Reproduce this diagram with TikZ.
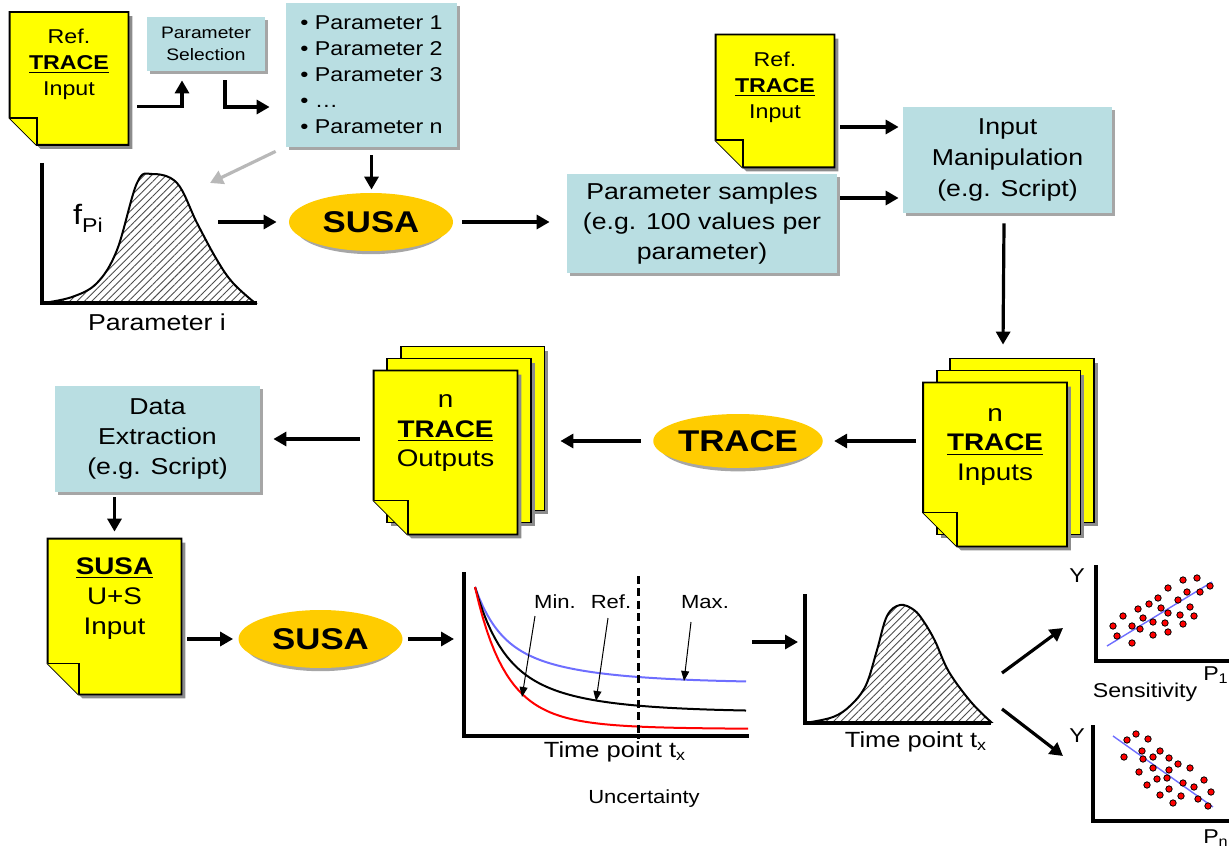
\documentclass[tikz,border=0pt]{standalone}
\usepackage{fontspec}
\setmainfont{Liberation Sans}[FakeStretch=1.16]
\usetikzlibrary{arrows.meta,shapes.geometric,shadows,patterns.meta,backgrounds}

\definecolor{docyellow}{RGB}{255,255,0}
\definecolor{boxblue}{RGB}{185,222,226}
\definecolor{susagold}{RGB}{255,204,0}
\definecolor{maxblue}{RGB}{110,110,255}

\tikzset{
  arr/.style={line width=1.6pt, -{Triangle[length=6.5pt,width=7pt]}},
  thinarr/.style={line width=0.5pt, -{Triangle[length=5pt,width=4pt]}},
  axis/.style={line width=1.6pt},
  pbox/.style={rectangle, fill=boxblue, align=center, inner sep=0pt,
    drop shadow={shadow xshift=1.3pt, shadow yshift=-1.3pt, fill=black!35, opacity=1}},
  prog/.style={ellipse, fill=susagold, inner sep=0pt, minimum width=82pt, minimum height=29pt,
    font=\bfseries\fontsize{15}{15}\selectfont,
    drop shadow={shadow xshift=0pt, shadow yshift=-3pt, shadow scale=0.92, fill=black!35, opacity=1}},
  docpage/.style={rectangle, inner sep=0pt, minimum width=59pt, minimum height=66pt},
  docstack/.style={rectangle, inner sep=0pt, minimum width=71.5pt, minimum height=81.5pt},
  doctext/.style={align=center, inner sep=0pt},
  pageline/.style={draw=black, fill=docyellow, line width=0.9pt},
  hatch/.style={pattern={Lines[angle=45,distance=2.6pt,line width=0.45pt]}, pattern color=black!70},
  plotlbl/.style={inner sep=0pt, font=\fontsize{11}{11}\selectfont},
  sdot/.style={fill=red, draw=black, line width=0.4pt},
}

% front page with folded corner, drawn round an empty node
\newcommand{\pagefold}[2]{%
  \fill[black!45] ([shift={(4,4)}]#1.north west) -- ([shift={(4,4)}]#1.north east)
    -- ([shift={(4,4)}]#1.south east) -- ([shift={(4+#2,4)}]#1.south west)
    -- ([shift={(4,4-#2)}]#1.south west) -- cycle;
  \draw[pageline] (#1.north west) -- (#1.north east) -- (#1.south east)
    -- ([shift={(#2,0)}]#1.south west) -- ([shift={(0,-#2)}]#1.south west) -- cycle;
  \draw[pageline] ([shift={(0,-#2)}]#1.south west) -- ([shift={(#2,-#2)}]#1.south west)
    -- ([shift={(#2,0)}]#1.south west);
}
% pages behind the front one
\newcommand{\pageback}[2]{%
  \fill[black!45] ([shift={(13.5*#2+4,-12*#2+4)}]#1.north west) rectangle ([shift={(13.5*#2+4,-12*#2+4)}]#1.south east);
  \draw[pageline] ([shift={(13.5*#2,-12*#2)}]#1.north west) rectangle ([shift={(13.5*#2,-12*#2)}]#1.south east);
}

\begin{document}
\begin{tikzpicture}[x=0.5pt, y=-0.5pt]
\useasboundingbox (0,0) rectangle (1229,849);

% top row
\node[docpage] (refin) at (69,78.5) {};
\node[doctext, font=\fontsize{10}{13}\selectfont] (refintxt) at ([yshift=7pt]refin.center) {Ref.\\\underline{\textbf{TRACE}}\\Input};
\node[pbox, minimum width=59pt, minimum height=27pt, font=\fontsize{8.3}{11}\selectfont] (parsel) at (206,44) {Parameter\\Selection};
\node[pbox, minimum width=85.5pt, minimum height=72pt, align=left, font=\fontsize{10}{13}\selectfont] (parlist) at (371.5,75) {• Parameter 1\\• Parameter 2\\• Parameter 3\\• …\\• Parameter n};
\node[prog] (susa1) at (371,222) {SUSA};
\node[pbox, minimum width=135pt, minimum height=49.5pt, font=\fontsize{11.5}{15}\selectfont] (parsamp) at (702,223.5) {Parameter samples\\(e.g. 100 values per\\parameter)};
\node[docpage] (refin2) at (775,101) {};
\node[doctext, font=\fontsize{10}{13}\selectfont] (refin2txt) at ([yshift=6.75pt]refin2.center) {Ref.\\\underline{\textbf{TRACE}}\\Input};
\node[pbox, minimum width=104.5pt, minimum height=53pt, font=\fontsize{11.5}{15.5}\selectfont] (inman) at (1007.5,160) {Input\\Manipulation\\(e.g. Script)};

% distribution of one parameter
\coordinate (pdforig) at (42,303);
\coordinate (pdftop) at (210,183);
\coordinate (pdfright) at (218,222);
\draw[hatch, line width=1pt] plot[smooth, tension=0.6] coordinates {(43,303) (72,297) (97,283) (117,250) (137,183) (152,174) (177,183) (197,223) (217,260) (233,283) (255,303)} -- cycle;
\draw[axis] (42,163) -- (pdforig) -- (257,303);
\node[inner sep=0pt, font=\fontsize{14}{14}\selectfont] (fpi) at (88,218) {f\raisebox{-0.55ex}{\fontsize{10}{10}\selectfont Pi}};
\node[plotlbl, font=\fontsize{11.5}{11.5}\selectfont] (parilbl) at (157,322) {Parameter i};

% second row
\node[docstack] (trin) at (995,464.5) {};
\node[doctext, font=\fontsize{12}{14.75}\selectfont] (trintxt) at ([yshift=8.75pt]trin.center) {n\\\underline{\textbf{TRACE}}\\Inputs};
\node[prog, minimum height=27pt] (trace) at (738,441) {TRACE};
\node[docstack] (trout) at (445.5,452.5) {};
\node[doctext, font=\fontsize{12}{14.75}\selectfont] (trouttxt) at ([yshift=9.5pt]trout.center) {n\\\underline{\textbf{TRACE}}\\Outputs};
\node[pbox, minimum width=102.5pt, minimum height=53pt, font=\fontsize{11.5}{15}\selectfont] (dataex) at (157.5,439) {Data\\Extraction\\(e.g. Script)};

% third row
\node[docpage, minimum width=66.5pt, minimum height=77.5pt] (susain) at (114.5,616.5) {};
\node[doctext, font=\fontsize{12}{15}\selectfont] (susaintxt) at ([yshift=9pt]susain.center) {\underline{\textbf{SUSA}}\\U+S\\Input};
\node[prog] (susa2) at (320.5,639) {SUSA};

% uncertainty plot
\coordinate (uncorig) at (464,736);
\coordinate (uncright) at (752,642);
\draw[axis] (464,572) -- (uncorig) -- (749,736);
\draw[maxblue, line width=1pt] plot[domain=475:746, samples=70] (\x, {683-50*exp(-(\x-475)/22)-46*exp(-(\x-475)/80)});
\draw[line width=1pt] plot[domain=475:746, samples=70] (\x, {712-70*exp(-(\x-475)/25)-55*exp(-(\x-475)/75)});
\draw[red, line width=1pt] plot[domain=475:748, samples=70] (\x, {729-110*exp(-(\x-475)/28)-32*exp(-(\x-475)/60)});
\draw[line width=1.5pt, dash pattern=on 4pt off 2.2pt] (638,576) -- (638,739);
\node[plotlbl, font=\fontsize{9.5}{9.5}\selectfont] (minlbl) at (555,602) {Min.};
\node[plotlbl, font=\fontsize{9.5}{9.5}\selectfont] (reflbl) at (611,602) {Ref.};
\node[plotlbl, font=\fontsize{9.5}{9.5}\selectfont] (maxlbl) at (705,602) {Max.};
\coordinate (minpt) at (522,697);
\coordinate (refpt) at (596,701);
\coordinate (maxpt) at (684,681);
\draw[thinarr] ([shift={(-20,14)}]minlbl.center) -- (minpt);
\draw[thinarr] ([shift={(-3,16)}]reflbl.center) -- (refpt);
\draw[thinarr] ([shift={(-14,20)}]maxlbl.center) -- (maxpt);
\node[plotlbl] (tpt1) at (615,752) {Time point t\textsubscript{x}};
\node[plotlbl, font=\fontsize{9.5}{9.5}\selectfont] (unclbl) at (644,799) {Uncertainty};

% distribution at time point
\coordinate (tdorig) at (805,723);
\draw[hatch, line width=1pt] plot[smooth, tension=0.6] coordinates {(805,723) (833,717) (851,705) (866,685) (877,650) (887,616) (900,605) (914,610) (924,622) (935,641) (949,672) (971,702) (991,722)} -- cycle;
\draw[axis] (805,594) -- (tdorig) -- (991,723);
\node[plotlbl] (tpt2) at (916,742) {Time point t\textsubscript{x}};

% sensitivity plots
\coordinate (s1orig) at (1096,661);
\coordinate (s2orig) at (1093,821);
\coordinate (sensup) at (1002,673);
\coordinate (sensdn) at (1002,709);
\draw[line width=1.9pt] (1096,565) -- (s1orig) -- (1229,661);
\draw[line width=1.9pt] (1093,725) -- (s2orig) -- (1229,821);
\draw[maxblue, line width=0.7pt] (1107,646) -- (1212,582);
\draw[maxblue, line width=0.7pt] (1113,736) -- (1213,807);
\foreach \p in {(1183,580),(1197,578),(1210,586),(1168,588),(1187,592),(1200,592),(1158,598),(1149,604),(1161,608),(1178,600),(1190,607),(1138,609),(1123,616),(1168,613),(1180,615),(1194,616),(1143,618),(1153,622),(1165,623),(1113,626),(1132,626),(1140,629),(1183,624),(1117,636),(1153,635),(1168,632),(1132,643)}
  \filldraw[sdot] \p circle[radius=1.6pt];
\foreach \p in {(1127,740),(1136,734),(1148,739),(1124,757),(1142,751),(1160,751),(1143,759),(1153,757),(1169,758),(1178,764),(1153,768),(1169,770),(1190,768),(1139,772),(1167,778),(1157,779),(1147,785),(1183,783),(1194,787),(1204,780),(1169,789),(1211,792),(1160,795),(1181,796),(1198,799),(1173,803),(1208,806)}
  \filldraw[sdot] \p circle[radius=1.6pt];
\node[plotlbl, font=\fontsize{10}{10}\selectfont] (y1lbl) at (1077,576) {Y};
\node[plotlbl, font=\fontsize{10}{10}\selectfont] (p1lbl) at (1216,675) {P\textsubscript{1}};
\node[plotlbl, font=\fontsize{10}{10}\selectfont] (senslbl) at (1145,692) {Sensitivity};
\node[plotlbl, font=\fontsize{10}{10}\selectfont] (y2lbl) at (1077,736) {Y};
\node[plotlbl, font=\fontsize{10}{10}\selectfont] (pnlbl) at (1216,838) {P\textsubscript{n}};

% connectors
\draw[arr] ([shift={(9,28)}]refin.east) -| ([shift={(-24,9)}]parsel.south);
\draw[arr] ([shift={(19,9)}]parsel.south) |- ([shift={(-16,32)}]parlist.west);
\draw[arr, black!28] ([shift={(-10,4)}]parlist.south west) -- (pdftop);
\draw[arr] ([yshift=-4pt]parlist.south) -- ([yshift=1.5pt]parlist.south |- susa1.north);
\draw[arr] (pdfright) -- ([xshift=-6pt]susa1.west);
\draw[arr] ([xshift=4.5pt]susa1.east) -- ([xshift=-8.5pt]parsamp.west |- susa1.east);
\draw[arr] ([shift={(6,26)}]refin2.east) -- ([shift={(-4,-33)}]inman.west);
\draw[arr] ([shift={(3,-25.5)}]parsamp.east) -- ([shift={(-4,38)}]inman.west);
\draw[arr] ([shift={(-3.5,10)}]inman.south) -- ([shift={(8,-38)}]trin.north);
\draw[arr] ([xshift=-3.5pt]trin.west |- trace.east) -- ([xshift=5.5pt]trace.east);
\draw[arr] ([xshift=-6pt]trace.west) -- ([xshift=21.5pt]trout.east |- trace.west);
\draw[arr] ([xshift=-7pt]trout.west |- dataex.east) -- ([xshift=6.5pt]dataex.east);
\draw[arr] ([yshift=-2.5pt]dataex.south -| susain.north) -- ([yshift=3.5pt]susain.north);
\draw[arr] ([xshift=3pt]susain.east |- susa2.west) -- ([xshift=-2.5pt]susa2.west);
\draw[arr] ([xshift=2.5pt]susa2.east) -- ([xshift=-5pt]uncorig |- susa2.east);
\draw[arr] (uncright) -- ([xshift=-3.5pt]tdorig |- uncright);
\draw[arr] (sensup) -- ([shift={(-33,-33)}]s1orig);
\draw[arr] (sensdn) -- ([shift={(-30,-65)}]s2orig);

% document pages
\begin{scope}[on background layer]
  \pagefold{refin}{27}
  \pagefold{refin2}{27}
  \pageback{trin}{2}
  \pageback{trin}{1}
  \pagefold{trin}{34}
  \pageback{trout}{2}
  \pageback{trout}{1}
  \pagefold{trout}{34}
  \pagefold{susain}{31}
\end{scope}
\end{tikzpicture}
\end{document}
